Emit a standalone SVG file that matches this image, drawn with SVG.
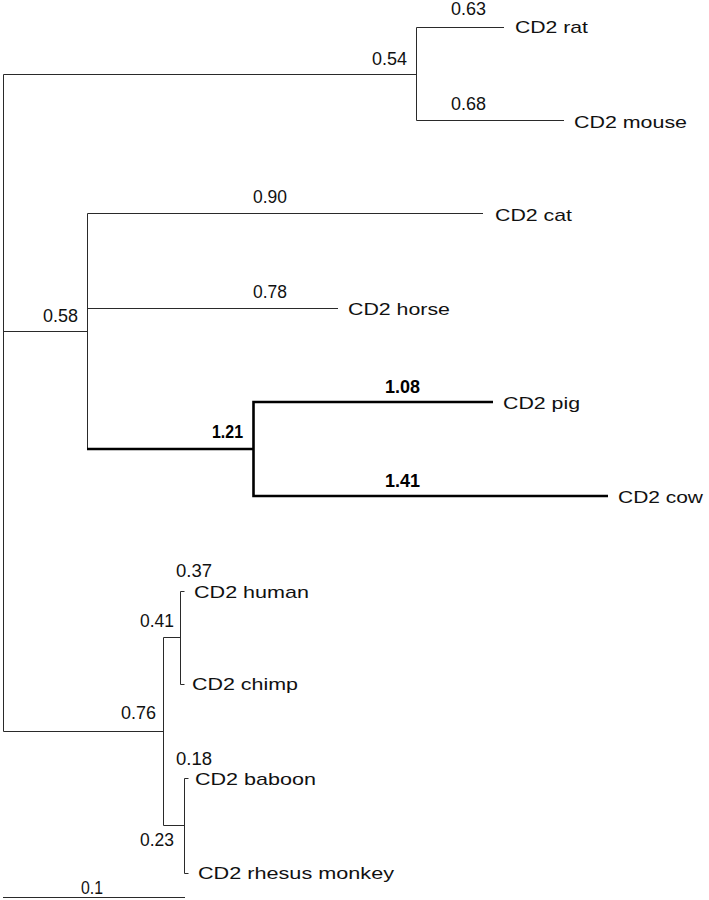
<svg xmlns="http://www.w3.org/2000/svg" width="709" height="900" viewBox="0 0 709 900">
<style>
.l{stroke:#2a2a2a;stroke-width:1;fill:none}
.t{stroke:#000;stroke-width:2.6;fill:none}
.n{font-family:"Liberation Sans",Arial,sans-serif;font-size:17.5px;fill:#111}
.b{font-family:"Liberation Sans",Arial,sans-serif;font-size:17.5px;font-weight:bold;fill:#000}
.lab{font-family:"Liberation Sans",Arial,sans-serif;font-size:17px;fill:#111}
</style>
<rect width="709" height="900" fill="#fff"/>
<g id="connectors">
<path class="l" d="M3.5,74.5V731.5M3.5,74.5H416.5M416.5,27.5V120.5M416.5,27.5H504M416.5,120.5H564"/>
<path class="l" d="M3.5,331.5H87.5M87.5,213.5V449M87.5,213.5H483M87.5,308.5H338"/>
<path class="t" d="M87,449H253.5M253.5,402V496M252.2,402H493M252.2,496H608"/>
<path class="l" d="M3.5,731.5H163.5M163.5,637.5V825.5M163.5,637.5H180.5M180.5,591.5V684.5M180.5,591.5H184.5M180.5,684.5H184.5M163.5,825.5H184.5M184.5,778.5V873.5M184.5,778.5H188.5M184.5,873.5H188.5"/>
<path class="l" d="M3,897.5H185"/>
</g>
<g id="branch-labels">
<text class="n" x="372" y="65" textLength="35" lengthAdjust="spacingAndGlyphs">0.54</text>
<text class="n" x="451" y="15" textLength="35" lengthAdjust="spacingAndGlyphs">0.63</text>
<text class="n" x="451" y="110" textLength="35" lengthAdjust="spacingAndGlyphs">0.68</text>
<text class="n" x="43" y="322" textLength="35" lengthAdjust="spacingAndGlyphs">0.58</text>
<text class="n" x="253" y="203" textLength="34" lengthAdjust="spacingAndGlyphs">0.90</text>
<text class="n" x="253" y="298" textLength="34" lengthAdjust="spacingAndGlyphs">0.78</text>
<text class="b" x="212" y="438" textLength="31" lengthAdjust="spacingAndGlyphs">1.21</text>
<text class="b" x="385" y="393" textLength="35" lengthAdjust="spacingAndGlyphs">1.08</text>
<text class="b" x="385" y="487" textLength="35" lengthAdjust="spacingAndGlyphs">1.41</text>
<text class="n" x="121" y="719" textLength="35" lengthAdjust="spacingAndGlyphs">0.76</text>
<text class="n" x="140" y="627" textLength="34" lengthAdjust="spacingAndGlyphs">0.41</text>
<text class="n" x="176" y="577" textLength="36" lengthAdjust="spacingAndGlyphs">0.37</text>
<text class="n" x="176" y="765" textLength="36" lengthAdjust="spacingAndGlyphs">0.18</text>
<text class="n" x="140" y="846" textLength="34" lengthAdjust="spacingAndGlyphs">0.23</text>
</g>
<g id="node-rat"><text class="lab" x="515" y="33" textLength="73" lengthAdjust="spacingAndGlyphs">CD2 rat</text></g>
<g id="node-mouse"><text class="lab" x="574" y="128" textLength="113" lengthAdjust="spacingAndGlyphs">CD2 mouse</text></g>
<g id="node-cat"><text class="lab" x="495" y="221" textLength="77" lengthAdjust="spacingAndGlyphs">CD2 cat</text></g>
<g id="node-horse"><text class="lab" x="348" y="315" textLength="102" lengthAdjust="spacingAndGlyphs">CD2 horse</text></g>
<g id="node-pig"><text class="lab" x="503" y="409" textLength="77" lengthAdjust="spacingAndGlyphs">CD2 pig</text></g>
<g id="node-cow"><text class="lab" x="618" y="503" textLength="85" lengthAdjust="spacingAndGlyphs">CD2 cow</text></g>
<g id="node-human"><text class="lab" x="194" y="598" textLength="115" lengthAdjust="spacingAndGlyphs">CD2 human</text></g>
<g id="node-chimp"><text class="lab" x="192" y="690" textLength="106" lengthAdjust="spacingAndGlyphs">CD2 chimp</text></g>
<g id="node-baboon"><text class="lab" x="195" y="785" textLength="121" lengthAdjust="spacingAndGlyphs">CD2 baboon</text></g>
<g id="node-rhesus"><text class="lab" x="198" y="879" textLength="196" lengthAdjust="spacingAndGlyphs">CD2 rhesus monkey</text></g>
<g id="scale-bar"><text class="n" x="81" y="894" textLength="22" lengthAdjust="spacingAndGlyphs">0.1</text></g>
</svg>
